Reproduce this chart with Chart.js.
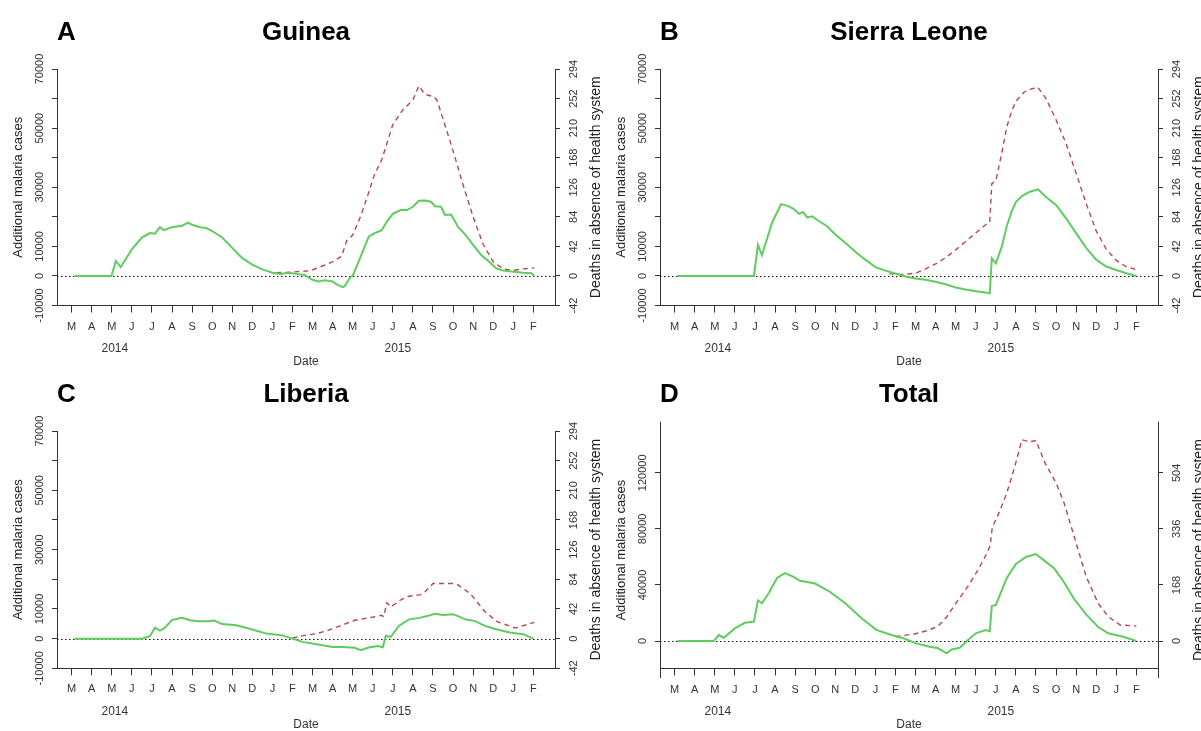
<!DOCTYPE html>
<html>
<head>
<meta charset="utf-8">
<script src="https://cdn.jsdelivr.net/npm/chart.js@4.4.1/dist/chart.umd.min.js"></script>
<style>
  html, body { margin: 0; padding: 0; background: #fff; }
  #wrap { position: relative; width: 1201px; height: 731px; overflow: hidden; }
  .panel { position: absolute; }
  canvas { display: block; }
</style>
</head>
<body>
<div id="wrap">
  <div class="panel" style="left:0;top:0"><canvas id="cA" width="603" height="368"></canvas></div>
  <div class="panel" style="left:603px;top:0"><canvas id="cB" width="598" height="368"></canvas></div>
  <div class="panel" style="left:0;top:363px"><canvas id="cC" width="603" height="368"></canvas></div>
  <div class="panel" style="left:603px;top:363px"><canvas id="cD" width="598" height="368"></canvas></div>
</div>
<script>
// x = months since 1 March 2014 (tick 0 = M 2014 ... tick 23 = F 2016)
const monthLetters = ['M','A','M','J','J','A','S','O','N','D','J','F','M','A','M','J','J','A','S','O','N','D','J','F'];
const yearLabels = ['2014', '2015'];
const yearPos = [2.15, 16.25];

// Guinea
const guineaCasesM = [0.13,1.98,2.2,2.45,3.0,3.5,3.9,4.15,4.4,4.6,5.0,5.5,5.8,6.0,6.4,6.7,7.0,7.5,8.0,8.5,9.0,9.5,10.0,10.4,10.8,11.2,11.6,12.0,12.3,12.6,13.0,13.25,13.5,13.6,13.9,14.0,14.4,14.8,15.1,15.45,15.7,16.0,16.4,16.7,17.0,17.3,17.6,17.9,18.1,18.4,18.6,18.9,19.25,19.63,20.0,20.4,20.8,21.15,21.5,21.9,22.5,22.9,23.05];
const guineaCases  = [0,0,5000,3000,9000,13000,14500,14300,16500,15500,16500,17000,18000,17300,16500,16200,15200,13000,9500,6000,3800,2200,1100,700,1100,700,300,-1300,-1900,-1500,-1900,-3000,-3800,-3500,-200,0,6500,13300,14500,15500,18300,21000,22300,22300,23400,25400,25500,25100,23600,23400,20600,20800,16600,13800,10500,7100,4800,2600,1800,1500,1100,900,0];
const guineaDeathsM = [10.2,11.0,11.9,12.4,13.0,13.45,13.7,14.0,14.4,14.7,15.1,15.45,16.0,16.5,17.0,17.3,17.6,18.0,18.2,18.6,19.0,19.45,20.0,20.5,21.0,21.5,22.0,22.5,23.05];
const guineaDeaths  = [4.5,5.5,7.5,13,20,28,50,58,85,110,145,165,215,236,250,270,258,255,250,214,178,134,84,45,20,10,8,10,11.5];

// Sierra Leone
const sierraCasesM = [0.13,3.95,4.15,4.35,4.85,5.3,5.6,5.9,6.2,6.4,6.6,6.85,7.2,7.6,8.0,8.5,9.0,9.5,10.0,10.5,11.0,11.5,12.0,12.5,13.0,13.5,14.0,14.5,15.0,15.5,15.7,15.8,16.0,16.3,16.55,16.8,17.0,17.3,17.7,18.1,18.5,19.0,19.5,20.0,20.5,21.0,21.5,22.0,22.5,23.0];
const sierraCases  = [0,0,10500,7000,18000,24300,23800,22800,21000,21600,19800,20200,18500,16800,14000,11200,8200,5500,3000,1800,800,-200,-900,-1300,-2000,-2800,-3900,-4600,-5200,-5600,-5900,6000,4200,10000,17000,22000,25000,27000,28500,29300,26700,24000,19500,14500,9500,5500,3200,2000,900,0];
const sierraDeathsM = [10.7,11.3,12.0,12.5,13.0,13.5,14.0,14.5,15.0,15.5,15.7,15.8,16.0,16.3,16.55,16.8,17.0,17.4,17.8,18.1,18.5,19.0,19.5,20.0,20.5,21.0,21.5,22.0,22.5,23.0];
const sierraDeaths  = [3,2,4,10,17,26,37,49,61,73,77,131,135,175,212,235,248,261,266,268,252,222,188,146,103,64,38,22,13,9];

// Liberia
const liberiaCasesM = [0.13,3.5,3.9,4.15,4.4,4.65,5.0,5.5,5.9,6.3,6.8,7.1,7.5,8.2,9.0,9.7,10.5,11.0,11.5,12.2,13.0,13.5,14.1,14.4,14.8,15.25,15.5,15.65,15.9,16.3,16.8,17.35,17.7,18.1,18.5,19.0,19.25,19.6,20.1,20.6,21.0,21.5,21.9,22.5,23.0];
const liberiaCases  = [0,0,800,3700,2700,3700,6300,7000,6200,5900,5900,6100,4900,4500,3100,1700,1100,0,-1100,-1900,-2800,-2800,-3100,-3900,-3000,-2500,-2900,900,600,4300,6500,7000,7600,8400,8000,8200,7600,6500,5900,4300,3400,2600,2000,1500,0];
const liberiaDeathsM = [11.0,11.45,12.2,12.8,13.55,14.1,14.9,15.45,15.55,15.7,15.9,16.4,16.8,17.35,17.6,18.0,19.0,19.25,19.85,20.6,21.2,22.1,23.05];
const liberiaDeaths  = [0.5,4,7,12,20,26,30,33,31,51,45,55,60,62,66,78,78,76,64,38,24,15,23];

// Total
const totalCasesM = [0.13,1.95,2.2,2.45,3.0,3.5,3.95,4.15,4.35,4.7,5.1,5.5,5.9,6.25,7.0,7.75,8.5,9.3,10.05,10.8,11.4,12.0,12.7,13.1,13.55,13.8,14.2,14.6,15.0,15.5,15.7,15.8,16.0,16.55,17.0,17.5,18.0,18.45,18.9,19.4,19.9,20.5,21.1,21.6,22.35,23.0];
const totalCases  = [0,0,4300,2400,9000,13000,13800,29000,27000,34500,45000,48500,46000,43000,41000,35000,27000,16500,8000,4300,2000,-1500,-4000,-5000,-8800,-6000,-4800,500,5500,7800,7000,25000,25800,45000,55000,60000,62000,57000,52000,42000,30000,19000,10000,5500,3000,0];
const totalDeathsM = [11.0,12.0,12.5,13.1,13.55,14.0,14.6,15.1,15.4,15.72,15.82,16.2,16.55,16.95,17.3,17.7,18.0,18.45,19.0,19.4,19.9,20.5,21.1,21.6,22.2,23.0];
const totalDeaths  = [13,22,30,43,72,112,163,212,245,285,340,390,444,524,603,597,601,534,474,414,314,193,113,73,48,45];

const GREEN = '#5fcc5f';
const RED = '#b84652';
const AXIS = '#333';
const FONT = '"Liberation Sans", Arial, sans-serif';

function pairs(xs, ys) { return xs.map((x, i) => ({ x: x, y: ys[i] })); }

function rotText(ctx, text, x, y) {
  ctx.save();
  ctx.translate(x, y);
  ctx.rotate(-Math.PI / 2);
  ctx.fillText(text, 0, 0);
  ctx.restore();
}

const panelText = {
  id: 'panelText',
  beforeDatasetsDraw(chart) {
    const { ctx, chartArea: a, scales } = chart;
    const y0 = Math.round(scales.y.getPixelForValue(0)) + 0.5;
    ctx.save();
    ctx.strokeStyle = '#111';
    ctx.lineWidth = 1;
    ctx.setLineDash([1.5, 2.5]);
    ctx.beginPath();
    ctx.moveTo(a.left, y0);
    ctx.lineTo(a.right, y0);
    ctx.stroke();
    ctx.restore();
  },
  afterDraw(chart, args, o) {
    const { ctx, chartArea: a, scales } = chart;
    const xs = scales.x, ys = scales.y, ys1 = scales.y1;
    const cy = (a.top + a.bottom) / 2;
    ctx.save();
    // extended axis lines (Total panel)
    if (o.extTop || o.extBottom) {
      ctx.strokeStyle = AXIS;
      ctx.lineWidth = 1;
      [Math.round(a.left) + 0.5, Math.round(a.right) + 0.5].forEach(px => {
        ctx.beginPath();
        ctx.moveTo(px, a.top - o.extTop);
        ctx.lineTo(px, a.bottom + o.extBottom);
        ctx.stroke();
      });
    }
    // panel letter and title
    ctx.fillStyle = '#000';
    ctx.font = 'bold 26px ' + FONT;
    ctx.textBaseline = 'alphabetic';
    ctx.textAlign = 'left';
    ctx.fillText(o.letter, a.left, o.titleY);
    ctx.textAlign = 'center';
    ctx.fillText(o.title, (a.left + a.right) / 2, o.titleY);
    // month letters
    ctx.fillStyle = AXIS;
    ctx.textBaseline = 'middle';
    ctx.font = '11px ' + FONT;
    monthLetters.forEach((m, i) => ctx.fillText(m, xs.getPixelForValue(i), a.bottom + 21));
    ctx.font = '12px ' + FONT;
    yearLabels.forEach((t, i) => ctx.fillText(t, xs.getPixelForValue(yearPos[i]), a.bottom + 43));
    ctx.fillText('Date', (a.left + a.right) / 2, a.bottom + 56);
    // rotated tick labels
    ctx.font = '11px ' + FONT;
    o.leftLabels.forEach(v => rotText(ctx, String(v), a.left - 17, ys.getPixelForValue(v)));
    o.rightLabels.forEach(v => rotText(ctx, String(v), a.right + 19, ys1.getPixelForValue(v)));
    // axis titles
    ctx.fillStyle = '#222';
    ctx.font = '13px ' + FONT;
    rotText(ctx, 'Additional malaria cases', 18, cy);
    ctx.font = '14px ' + FONT;
    rotText(ctx, 'Deaths in absence of health system', a.right + 41, cy);
    ctx.restore();
  }
};

function makePanel(id, p) {
  const canvas = document.getElementById(id);
  const W = canvas.width, H = canvas.height;
  new Chart(canvas, {
    type: 'line',
    data: {
      datasets: [
        { data: pairs(p.casesM, p.cases), yAxisID: 'y', borderColor: GREEN, borderWidth: 2, pointRadius: 0, tension: 0, order: 1 },
        { data: pairs(p.deathsM, p.deaths), yAxisID: 'y1', borderColor: RED, borderWidth: 1.4, borderDash: [5, 4], pointRadius: 0, tension: 0, order: 2 }
      ]
    },
    options: {
      responsive: false,
      animation: false,
      events: [],
      layout: { padding: { top: p.top, left: 0, right: 0, bottom: 0 } },
      plugins: {
        legend: { display: false },
        tooltip: { enabled: false },
        panelText: { letter: p.letter, title: p.title, titleY: p.titleY, leftLabels: p.leftLabels, rightLabels: p.rightLabels, extTop: p.extTop || 0, extBottom: p.extBottom || 0 }
      },
      scales: {
        x: {
          type: 'linear', position: 'bottom', min: -0.73, max: 24.08,
          afterBuildTicks: s => { s.ticks = monthLetters.map((m, i) => ({ value: i })); },
          afterFit: s => { s.height = H - p.bottom; },
          ticks: { display: false },
          grid: { drawOnChartArea: false, tickLength: 7, color: AXIS },
          border: { color: AXIS }
        },
        y: {
          type: 'linear', position: 'left', min: p.yMin, max: p.yMax,
          afterBuildTicks: s => { s.ticks = p.leftTicks.map(v => ({ value: v })); },
          afterFit: s => { s.width = 57; },
          ticks: { display: false },
          grid: { drawOnChartArea: false, tickLength: 5, color: AXIS },
          border: { color: AXIS }
        },
        y1: {
          type: 'linear', position: 'right', min: p.y1Min, max: p.y1Max,
          afterBuildTicks: s => { s.ticks = p.rightTicks.map(v => ({ value: v })); },
          afterFit: s => { s.width = W - 555; },
          ticks: { display: false },
          grid: { drawOnChartArea: false, tickLength: 5, color: AXIS },
          border: { color: AXIS }
        }
      }
    },
    plugins: [panelText]
  });
}

const stdLeftTicks = [-10000, 0, 10000, 20000, 30000, 40000, 50000, 60000, 70000];
const stdLeftLabels = [-10000, 0, 10000, 30000, 50000, 70000];
const stdRightTicks = [-42, 0, 42, 84, 126, 168, 210, 252, 294];
const totalLeftTicks = [0, 40000, 80000, 120000];
const totalRightTicks = [0, 168, 336, 504];

const std = { top: 69, bottom: 305.5, yMin: -10000, yMax: 70000, y1Min: -42, y1Max: 294,
  leftTicks: stdLeftTicks, leftLabels: stdLeftLabels, rightTicks: stdRightTicks, rightLabels: stdRightTicks };

makePanel('cA', Object.assign({}, std, { letter: 'A', title: 'Guinea', titleY: 40,
  casesM: guineaCasesM, cases: guineaCases, deathsM: guineaDeathsM, deaths: guineaDeaths }));
makePanel('cB', Object.assign({}, std, { letter: 'B', title: 'Sierra Leone', titleY: 40,
  casesM: sierraCasesM, cases: sierraCases, deathsM: sierraDeathsM, deaths: sierraDeaths }));
makePanel('cC', Object.assign({}, std, { letter: 'C', title: 'Liberia', titleY: 39, top: 68, bottom: 305.3,
  casesM: liberiaCasesM, cases: liberiaCases, deathsM: liberiaDeathsM, deaths: liberiaDeaths }));
makePanel('cD', { letter: 'D', title: 'Total', titleY: 39, top: 68.7, bottom: 305.5,
  yMin: -19590, yMax: 149360, y1Min: -82.3, y1Max: 627.3,
  leftTicks: totalLeftTicks, leftLabels: totalLeftTicks, rightTicks: totalRightTicks, rightLabels: totalRightTicks,
  extTop: 10, extBottom: 9.5,
  casesM: totalCasesM, cases: totalCases, deathsM: totalDeathsM, deaths: totalDeaths });
</script>
</body>
</html>
